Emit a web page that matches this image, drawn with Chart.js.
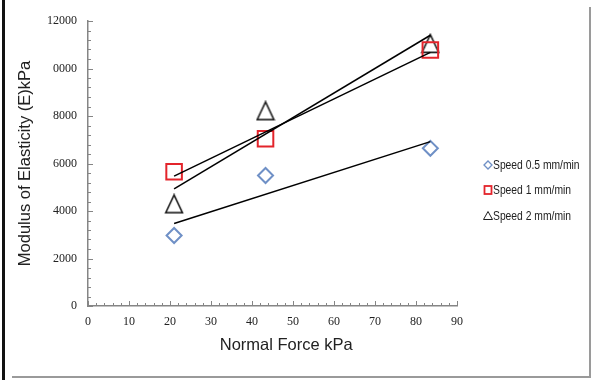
<!DOCTYPE html>
<html><head><meta charset="utf-8">
<script src="https://cdn.jsdelivr.net/npm/chart.js@4.4.0/dist/chart.umd.min.js"></script>
<style>html,body{margin:0;padding:0;background:#fff}#wrap{width:608px;height:380px;position:relative}</style>
</head><body><div id="wrap"><canvas id="c" width="608" height="380"></canvas></div>
<script>
// ---- data ----
const normalForce = [21, 43.3, 83.5];
const speed05 = [2970, 5495, 6640];
const speed1 = [5650, 7040, 10780];
const speed2 = [4300, 8220, 11050];
const seriesLabels = ['Speed 0.5 mm/min', 'Speed 1 mm/min', 'Speed 2 mm/min'];
const xTickLabels = ['0', '10', '20', '30', '40', '50', '60', '70', '80', '90'];
const yTickLabels = ['0', '2000', '4000', '6000', '8000', '0000', '12000'];
const xTitle = 'Normal Force kPa';
const yTitle = 'Modulus of Elasticity (E)kPa';

const COL05 = '#6f90c6', COL1 = '#e3242b', COL2 = '#1e1e1e';

function pts(ys) { return normalForce.map((x, i) => ({x: x, y: ys[i]})); }
// Excel-style linear trendline (least squares) over the plotted points
function trend(ys) {
  const n = normalForce.length;
  const mx = normalForce.reduce((a, b) => a + b, 0) / n;
  const my = ys.reduce((a, b) => a + b, 0) / n;
  let sxy = 0, sxx = 0;
  for (let i = 0; i < n; i++) { sxy += (normalForce[i] - mx) * (ys[i] - my); sxx += (normalForce[i] - mx) ** 2; }
  const b = sxy / sxx, a = my - b * mx;
  const x0 = normalForce[0], x1 = normalForce[n - 1];
  return [{x: x0, y: a + b * x0}, {x: x1, y: a + b * x1}];
}

// triangle marker image (slightly taller than equilateral, like the reference)
function triCanvas(w, h, lw, col) {
  const c = document.createElement('canvas');
  c.width = w; c.height = h;
  const g = c.getContext('2d');
  g.strokeStyle = col; g.lineWidth = lw; g.lineJoin = 'miter';
  g.beginPath();
  g.moveTo(w / 2, lw); g.lineTo(w - lw, h - lw); g.lineTo(lw, h - lw); g.closePath();
  g.stroke();
  return c;
}
const triImg = triCanvas(20, 21, 1.6, COL2);

const trendDs = (ys) => ({type: 'line', data: trend(ys), borderColor: '#000', borderWidth: 1.5,
  pointRadius: 0, pointHoverRadius: 0, fill: false, showLine: true, label: ''});

const decorPlugin = {
  id: 'decor',
  beforeDraw(chart) {
    const g = chart.ctx;
    g.save();
    g.fillStyle = '#fff'; g.fillRect(0, 0, chart.width, chart.height);
    g.restore();
  },
  afterDraw(chart) {
    const g = chart.ctx;
    const xs = chart.scales.x, ys = chart.scales.y;
    const area = chart.chartArea;
    g.save();
    // inside tick marks
    g.strokeStyle = '#858585'; g.lineWidth = 1;
    for (let v = 0; v <= 90; v += 2) {
      const px = Math.round(xs.getPixelForValue(v)) + 0.5;
      const len = (v % 10 === 0) ? 5 : 3;
      g.beginPath(); g.moveTo(px, area.bottom); g.lineTo(px, area.bottom - len); g.stroke();
    }
    for (let v = 0; v <= 12000; v += 400) {
      const py = Math.round(ys.getPixelForValue(v)) + 0.5;
      const len = (v % 2000 === 0) ? 5 : 3;
      g.beginPath(); g.moveTo(area.left, py); g.lineTo(area.left + len, py); g.stroke();
    }
    // frame lines
    g.fillStyle = '#111'; g.fillRect(2, 0, 3, 380);
    g.fillStyle = '#9a9a9a'; g.fillRect(589, 7, 2, 371); g.fillRect(12, 376, 579, 2);
    // legend
    const lx = 488, rows = [165, 190, 216];
    // diamond
    g.strokeStyle = COL05; g.lineWidth = 1.3;
    g.beginPath(); g.moveTo(lx - 4, rows[0]); g.lineTo(lx, rows[0] - 4); g.lineTo(lx + 4, rows[0]); g.lineTo(lx, rows[0] + 4); g.closePath(); g.stroke();
    // square
    g.strokeStyle = COL1; g.lineWidth = 1.8;
    g.strokeRect(lx - 3.5, rows[1] - 4, 7, 8);
    // triangle
    g.strokeStyle = COL2; g.lineWidth = 1;
    g.beginPath(); g.moveTo(lx, rows[2] - 4.5); g.lineTo(lx + 4.5, rows[2] + 3.5); g.lineTo(lx - 4.5, rows[2] + 3.5); g.closePath(); g.stroke();
    g.font = '12px "Liberation Sans", Arial, sans-serif';
    g.textBaseline = 'middle'; g.textAlign = 'left'; g.fillStyle = '#222';
    seriesLabels.forEach((t, i) => {
      g.save();
      g.translate(lx + 5, rows[i] + 0.5);
      g.scale(0.86, 1);
      g.fillText(t, 0, 0);
      g.restore();
    });
    g.restore();
  }
};

new Chart(document.getElementById('c'), {
  type: 'scatter',
  data: {
    datasets: [
      trendDs(speed05), trendDs(speed1), trendDs(speed2),
      {label: seriesLabels[0], data: pts(speed05), pointStyle: 'rectRot', pointRadius: 7.5, pointHoverRadius: 7.5,
       borderColor: COL05, backgroundColor: 'rgba(0,0,0,0)', pointBorderWidth: 2},
      {label: seriesLabels[1], data: pts(speed1), pointStyle: 'rect', pointRadius: 11, pointHoverRadius: 11,
       borderColor: COL1, backgroundColor: 'rgba(0,0,0,0)', pointBorderWidth: 2},
      {label: seriesLabels[2], data: pts(speed2), pointStyle: triImg, pointRadius: 10,
       borderColor: COL2, backgroundColor: 'rgba(0,0,0,0)'}
    ]
  },
  options: {
    responsive: false, animation: false, devicePixelRatio: 1,
    layout: {padding: {left: 0, top: 21, right: 151, bottom: 0}},
    plugins: {legend: {display: false}, tooltip: {enabled: false}},
    scales: {
      x: {
        type: 'linear', min: 0, max: 90,
        afterFit: s => { s.height = 74; },
        grid: {display: false, drawTicks: false},
        border: {display: true, color: '#858585', width: 1.5},
        ticks: {stepSize: 2, autoSkip: false, maxRotation: 0, padding: 9, color: '#222',
          font: {family: '"Liberation Serif", "Times New Roman", serif', size: 12},
          callback: v => (v % 10 === 0 ? xTickLabels[v / 10] : '')},
        title: {display: true, text: '      ' + xTitle, color: '#222', padding: {top: 0, bottom: 25},
          font: {family: '"Liberation Sans", Arial, sans-serif', size: 16.5}}
      },
      y: {
        type: 'linear', min: 0, max: 12000,
        afterFit: s => { s.width = 88; },
        grid: {display: false, drawTicks: false},
        border: {display: true, color: '#858585', width: 1.5},
        ticks: {stepSize: 400, autoSkip: false, maxTicksLimit: 100, padding: 11, color: '#222',
          font: {family: '"Liberation Serif", "Times New Roman", serif', size: 12},
          callback: v => (v % 2000 === 0 ? yTickLabels[v / 2000] : '')},
        title: {display: true, text: yTitle, color: '#222', padding: {top: 16, bottom: 0},
          font: {family: '"Liberation Sans", Arial, sans-serif', size: 16.5}}
      }
    }
  },
  plugins: [decorPlugin]
});
</script></body></html>
